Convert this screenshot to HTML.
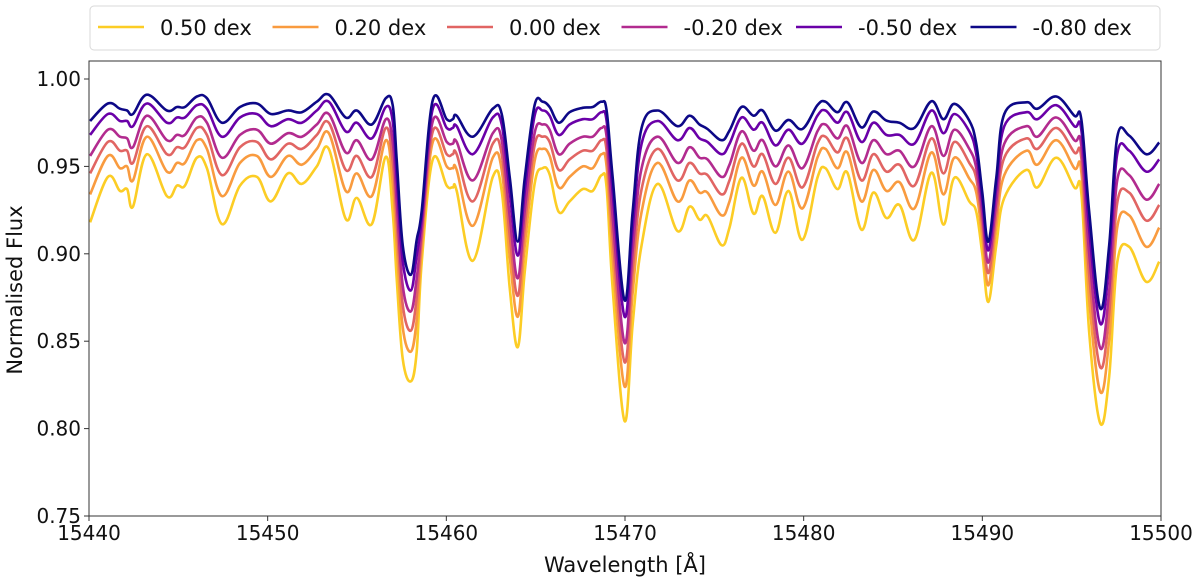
<!DOCTYPE html>
<html><head><meta charset="utf-8"><style>
html,body{margin:0;padding:0;background:#fff;}
svg{display:block;font-family:"DejaVu Sans","Liberation Sans",sans-serif;}
</style></head><body>
<svg id="chart" width="1200" height="582" viewBox="0 0 1200 582" xmlns="http://www.w3.org/2000/svg">
<g id="legend"></g>
<g id="plot"></g>
<g id="axes"></g>
<text x="625" y="572" font-size="21" text-anchor="middle" fill="#111">Wavelength [Å]</text>
<text transform="translate(22,290) rotate(-90)" font-size="21" text-anchor="middle" fill="#111">Normalised Flux</text>
</svg>
<script>
const wave=[15440.06,15441.06,15441.73,15442.13,15442.46,15443.24,15444.36,15444.92,15445.37,15446.04,15446.6,15447.44,15448.45,15449.4,15450.18,15451.13,15451.91,15452.75,15453.42,15454.37,15454.99,15455.83,15456.61,15457.0,15457.23,15457.56,15458.01,15458.34,15458.62,15459.24,15460.02,15460.36,15460.58,15461.48,15462.6,15463.1,15463.55,15464.0,15464.39,15464.94,15465.39,15465.78,15466.29,15466.9,15467.63,15468.19,15468.69,15468.97,15469.31,15469.98,15470.43,15470.93,15471.82,15472.94,15473.61,15474.17,15474.62,15475.4,15475.85,15476.52,15477.19,15477.7,15478.42,15479.15,15479.93,15480.77,15481.22,15481.89,15482.45,15483.23,15483.9,15484.63,15485.36,15486.2,15487.15,15487.82,15488.43,15489.27,15489.66,15490.0,15490.34,15490.78,15491.23,15492.46,15493.08,15494.14,15495.15,15495.54,15495.98,15496.6,15497.1,15497.55,15498.22,15499.17,15499.9];
const fluxM080=[.976,.986,.983,.982,.980,.991,.982,.984,.984,.990,.989,.975,.984,.986,.980,.982,.981,.987,.991,.978,.982,.974,.989,.985,.953,.905,.888,.908,.9245,.988,.977,.977,.979,.967,.983,.980,.9435,.907,.9435,.985,.987,.984,.975,.981,.9835,.984,.987,.982,.9435,.8734,.9243,.972,.982,.973,.979,.974,.9714,.965,.9705,.984,.979,.982,.9705,.9766,.9714,.985,.987,.981,.9867,.9723,.9814,.9762,.975,.972,.9873,.977,.9858,.9762,.9628,.935,.907,.9435,.980,.9867,.983,.990,.979,.977,.924,.8687,.905,.9666,.9676,.957,.9637];
const fluxM050=[.968,.980,.976,.976,.973,.986,.975,.978,.978,.985,.983,.967,.978,.980,.973,.977,.975,.982,.987,.970,.975,.966,.984,.976,.943,.896,.879,.899,.920,.983,.972,.972,.973,.957,.978,.974,.935,.899,.936,.979,.982,.979,.968,.974,.977,.977,.981,.976,.935,.864,.915,.963,.976,.965,.972,.966,.964,.957,.963,.978,.971,.975,.962,.971,.963,.979,.982,.975,.981,.964,.975,.968,.968,.963,.982,.969,.980,.970,.957,.930,.902,.938,.973,.981,.977,.985,.973,.971,.914,.860,.895,.957,.959,.947,.954];
const fluxM020=[.956,.971,.967,.966,.961,.979,.965,.968,.968,.978,.975,.955,.968,.971,.963,.969,.967,.974,.980,.958,.965,.954,.977,.964,.929,.882,.867,.886,.914,.976,.964,.963,.964,.942,.969,.965,.921,.886,.925,.969,.974,.971,.957,.963,.967,.967,.972,.967,.921,.849,.902,.949,.967,.952,.961,.955,.954,.944,.951,.970,.959,.965,.950,.962,.949,.970,.974,.966,.973,.952,.965,.957,.959,.950,.973,.956,.971,.960,.949,.923,.895,.930,.963,.973,.967,.978,.965,.962,.900,.846,.879,.942,.945,.931,.940];
const flux000=[.946,.964,.959,.959,.952,.973,.957,.961,.961,.972,.968,.945,.961,.964,.954,.963,.960,.968,.975,.948,.956,.944,.972,.953,.918,.871,.856,.875,.909,.970,.957,.957,.957,.930,.963,.957,.910,.876,.916,.962,.967,.964,.948,.954,.959,.959,.965,.959,.910,.838,.891,.937,.960,.942,.952,.946,.945,.934,.942,.963,.950,.957,.940,.955,.938,.963,.967,.958,.966,.942,.957,.947,.951,.939,.966,.946,.964,.952,.943,.917,.889,.923,.955,.966,.960,.972,.958,.955,.888,.835,.866,.929,.935,.919,.928];
const fluxP020=[.934,.956,.949,.950,.942,.967,.947,.952,.952,.965,.960,.933,.952,.956,.944,.956,.951,.960,.969,.936,.946,.933,.965,.941,.904,.858,.844,.862,.903,.964,.950,.949,.948,.916,.955,.948,.898,.864,.905,.953,.960,.956,.938,.944,.950,.949,.957,.950,.898,.824,.878,.924,.952,.930,.942,.935,.935,.922,.930,.955,.939,.947,.928,.947,.926,.955,.960,.949,.958,.930,.948,.936,.941,.926,.958,.934,.955,.943,.935,.910,.882,.916,.945,.959,.951,.965,.949,.947,.874,.821,.851,.915,.922,.904,.915];
const fluxP050=[.918,.944,.936,.937,.927,.957,.933,.939,.939,.955,.949,.917,.939,.944,.930,.946,.940,.950,.960,.920,.932,.917,.9555,.924,.885,.840,.827,.844,.895,.954,.939,.938,.936,.896,.944,.936,.880,.8466,.890,.940,.949,.9455,.924,.930,.937,.936,.945,.938,.880,.8043,.860,.905,.940,.913,.927,.9195,.9215,.905,.915,.9435,.923,.933,.912,.936,.908,.9435,.949,.937,.9464,.9138,.935,.9205,.928,.908,.9464,.9167,.9435,.930,.924,.900,.8725,.905,.932,.948,.938,.955,.938,.935,.855,.803,.830,.895,.904,.884,.8955];
const seriesLabels=["0.50 dex","0.20 dex","0.00 dex","-0.20 dex","-0.50 dex","-0.80 dex"];
const seriesColors=["#fccd25","#f99b3f","#e16563","#b22b8f","#6a00a8","#0d0887"];
const seriesData=[fluxP050,fluxP020,flux000,fluxM020,fluxM050,fluxM080];
const xTicks=[15440,15450,15460,15470,15480,15490,15500];
const yTicks=[0.75,0.80,0.85,0.90,0.95,1.00];

const L=89,R=1161,T=61,B=516;
const xMin=15440,xMax=15500,yMin=0.75,yMax=1.0103;
function X(w){return L+(w-xMin)/(xMax-xMin)*(R-L);}
function Y(f){return B-(f-yMin)/(yMax-yMin)*(B-T);}
const NS="http://www.w3.org/2000/svg";
function mk(tag,attrs,parent){const e=document.createElementNS(NS,tag);for(const k in attrs)e.setAttribute(k,attrs[k]);parent.appendChild(e);return e;}
const plot=document.getElementById('plot'),axes=document.getElementById('axes'),legend=document.getElementById('legend');

function smoothPath(pts){
  let d='M'+pts[0][0].toFixed(1)+','+pts[0][1].toFixed(1);
  const k=0.18;
  for(let i=0;i<pts.length-1;i++){
    const p0=pts[i-1]||pts[i],p1=pts[i],p2=pts[i+1],p3=pts[i+2]||p2;
    const c1x=p1[0]+(p2[0]-p0[0])*k,c1y=p1[1]+(p2[1]-p0[1])*k;
    const c2x=p2[0]-(p3[0]-p1[0])*k,c2y=p2[1]-(p3[1]-p1[1])*k;
    d+=' C'+c1x.toFixed(1)+','+c1y.toFixed(1)+' '+c2x.toFixed(1)+','+c2y.toFixed(1)+' '+p2[0].toFixed(1)+','+p2[1].toFixed(1);
  }
  return d;
}

seriesData.forEach((s,i)=>{
  const pts=s.map((v,j)=>[X(wave[j]),Y(v)]);
  const p=mk('path',{d:smoothPath(pts),fill:'none',stroke:seriesColors[i],'stroke-width':2.6,'stroke-linejoin':'round'},plot);
  
  
});

const frame=mk('rect',{x:L,y:T,width:R-L,height:B-T,fill:'none',stroke:'#333','stroke-width':1},axes);


xTicks.forEach(t=>{
  const x=X(t);
  const tk=mk('line',{x1:x,x2:x,y1:B,y2:B+5,stroke:'#333'},axes);
  
  
  const tx=mk('text',{x:x,y:B+24,'font-size':20,'text-anchor':'middle',fill:'#111'},axes);
  tx.textContent=t;
  
  
});
yTicks.forEach(t=>{
  const y=Y(t);
  const tk=mk('line',{x1:L-5,x2:L,y1:y,y2:y,stroke:'#333'},axes);
  
  
  const tx=mk('text',{x:L-8,y:y+7,'font-size':20,'text-anchor':'end',fill:'#111'},axes);
  tx.textContent=t.toFixed(2);
  
  
});

const box=mk('rect',{x:90,y:6,width:1070,height:44,rx:4,fill:'#fff',stroke:'#d8d8d8'},legend);


seriesLabels.forEach((lab,i)=>{
  const x0=98+i*174.5;
  const ln=mk('line',{x1:x0,x2:x0+46,y1:27,y2:27,stroke:seriesColors[i],'stroke-width':2.6},legend);
  
  
  const tx=mk('text',{x:x0+62,y:35,'font-size':21,fill:'#111'},legend);
  tx.textContent=lab;
  
  
});
</script>
</body></html>
